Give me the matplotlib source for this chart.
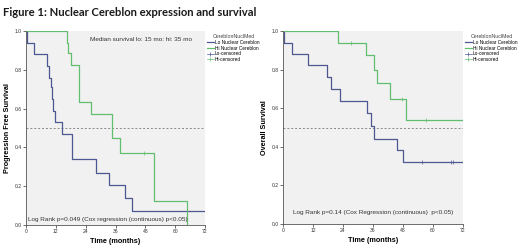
import matplotlib
matplotlib.use("Agg")
import matplotlib.pyplot as plt
from matplotlib.lines import Line2D

# PFS data
t_pfs_lo = [0, 0.3, 3.2, 8.6, 9.2, 9.9, 10.5, 11.0, 11.8, 14.6, 18.6, 28.2, 33.5, 40.0, 42.5, 72]
s_pfs_lo = [1.0, 0.94, 0.88, 0.82, 0.76, 0.71, 0.65, 0.59, 0.53, 0.47, 0.34, 0.27, 0.205, 0.137, 0.07, 0.07]
t_pfs_hi = [0, 16.4, 17.0, 18.1, 21.3, 26.0, 34.7, 37.8, 51.5, 64.9, 64.9]
s_pfs_hi = [1.0, 0.94, 0.885, 0.825, 0.636, 0.572, 0.447, 0.373, 0.125, 0.0, 0.0]
cens_pfs_hi_t = [47.5]
cens_pfs_hi_s = [0.373]

# OS data
t_os_lo = [0, 0.4, 3.6, 10.1, 17.5, 19.1, 22.8, 33.5, 35.2, 36.5, 45.5, 48.1, 72]
s_os_lo = [1.0, 0.94, 0.88, 0.824, 0.763, 0.70, 0.638, 0.573, 0.507, 0.443, 0.386, 0.32, 0.32]
cens_os_lo_t = [55.7, 67.2, 68.0]
cens_os_lo_s = [0.32, 0.32, 0.32]
t_os_hi = [0, 21.9, 33.2, 36.4, 37.7, 42.8, 49.1, 72]
s_os_hi = [1.0, 0.94, 0.875, 0.80, 0.73, 0.65, 0.54, 0.54]
cens_os_hi_t = [27.2, 47.5, 57.0]
cens_os_hi_s = [0.94, 0.65, 0.54]

x_ticks = [0, 12, 24, 36, 48, 60, 72]
y_ticks = [0.0, 0.2, 0.4, 0.6, 0.8, 1.0]
legend_title = "CereblonNuclMed"
legend_labels = ["Lo Nuclear Cereblon", "Hi Nuclear Cereblon", "Lo-censored", "Hi-censored"]

BLUE = "#4d5891"
GREEN = "#63bd6f"
BG = "#f1f1f1"
FONT = "Liberation Sans"

fig = plt.figure(figsize=(5.2, 2.48), dpi=100)
fig.patch.set_facecolor("white")

fig.text(3/520, 1 - 12/248, "Figure 1: Nuclear Cereblon expression and survival",
         fontsize=8.1, fontweight="bold", family="Lato", va="center", ha="left", color="#1a1a1a")

def setup(ax, ylabel):
    ax.set_facecolor(BG)
    ax.set_xlim(0, 72)
    ax.set_ylim(0, 1.0)
    ax.set_xticks(x_ticks)
    ax.set_yticks(y_ticks)
    ax.set_xticklabels([str(v) for v in x_ticks])
    ax.set_yticklabels([f"{v:.1f}" for v in y_ticks])
    ax.tick_params(axis="both", labelsize=3.6, length=2, width=0.5, pad=1, colors="#333333")
    for sp in ["top", "right"]:
        ax.spines[sp].set_visible(False)
    for sp in ["left", "bottom"]:
        ax.spines[sp].set_linewidth(0.6)
        ax.spines[sp].set_color("#555555")
    ax.axhline(0.5, color="#888888", lw=0.7, ls=(0, (2, 2)))
    ax.set_xlabel("Time (months)", fontsize=5.2, fontweight="bold", family=FONT, labelpad=3)
    ax.set_ylabel(ylabel, fontsize=5.2, fontweight="bold", family=FONT, labelpad=3)
    for lab in ax.get_xticklabels() + ax.get_yticklabels():
        lab.set_family(FONT)

def legend(ax):
    handles = [Line2D([], [], color=BLUE, lw=0.9),
               Line2D([], [], color=GREEN, lw=0.9),
               Line2D([], [], color=BLUE, lw=0.5, marker="|", ms=3, mew=0.5),
               Line2D([], [], color=GREEN, lw=0.5, marker="|", ms=3, mew=0.5)]
    leg = ax.legend(handles, legend_labels, title=legend_title, loc="upper left",
                    bbox_to_anchor=(0.995, 1.0), frameon=False,
                    prop={"size": 3.4, "family": FONT}, title_fontproperties={"size": 3.8, "family": FONT},
                    handlelength=1.3, handletextpad=0.3, labelspacing=0.15, borderaxespad=0.3)
    leg.get_title().set_color("#444444")

ax1 = fig.add_axes([26/520, 1 - 225/248, 179/520, 194/248])
setup(ax1, "Progression Free Survival")
ax1.step(t_pfs_lo, s_pfs_lo, where="post", color=BLUE, lw=0.9)
ax1.step(t_pfs_hi, s_pfs_hi, where="post", color=GREEN, lw=0.9)
ax1.plot(cens_pfs_hi_t, cens_pfs_hi_s, ls="none", marker="|", ms=2.5, mew=0.5, color=GREEN)
ax1.text(0.64, 0.955, "Median survival lo: 15 mo: hi: 35 mo", transform=ax1.transAxes,
         fontsize=4.6, family=FONT, ha="center", va="center", color="#333333")
ax1.text(0.01, 0.028, "Log Rank p=0.049 (Cox regression (continuous) p<0.05)", transform=ax1.transAxes,
         fontsize=4.6, family=FONT, ha="left", va="center", color="#333333")
legend(ax1)

ax2 = fig.add_axes([283/520, 1 - 224/248, 180/520, 193/248])
setup(ax2, "Overall Survival")
ax2.step(t_os_lo, s_os_lo, where="post", color=BLUE, lw=0.9)
ax2.step(t_os_hi, s_os_hi, where="post", color=GREEN, lw=0.9)
ax2.plot(cens_os_lo_t, cens_os_lo_s, ls="none", marker="|", ms=2.5, mew=0.5, color=BLUE)
ax2.plot(cens_os_hi_t, cens_os_hi_s, ls="none", marker="|", ms=2.5, mew=0.5, color=GREEN)
ax2.text(0.5, 0.06, "Log Rank p=0.14 (Cox Regression (continuous)  p<0.05)", transform=ax2.transAxes,
         fontsize=4.6, family=FONT, ha="center", va="center", color="#333333")
legend(ax2)

fig.savefig("out.png", dpi=100)
